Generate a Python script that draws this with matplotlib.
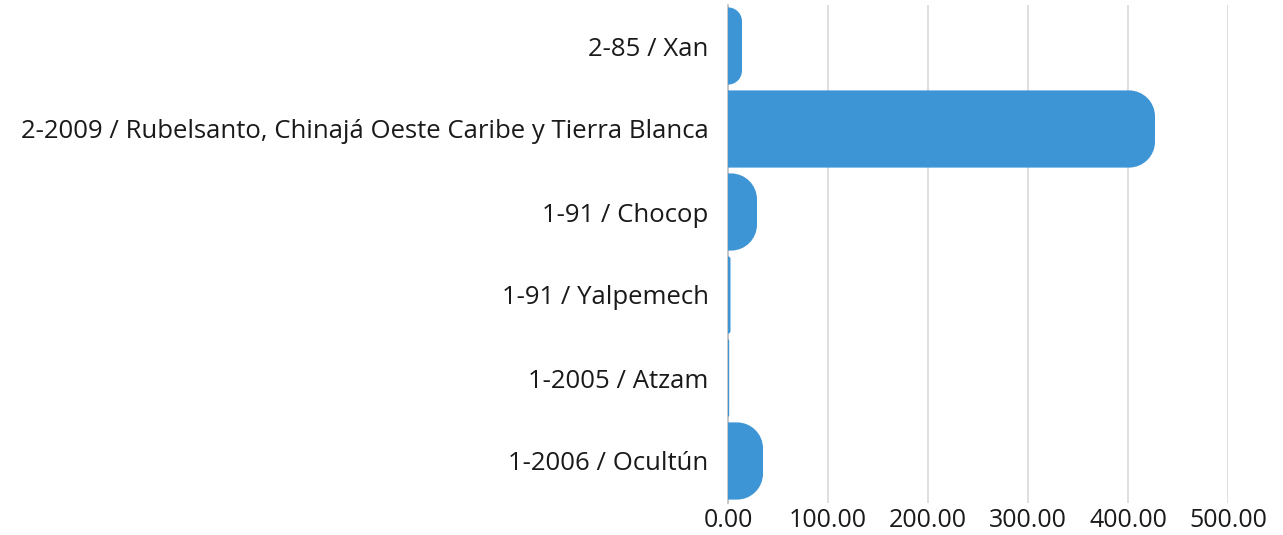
import matplotlib
matplotlib.use("Agg")
import matplotlib.pyplot as plt
from matplotlib.path import Path
from matplotlib.patches import PathPatch

categories = [
    "2-85 / Xan",
    "2-2009 / Rubelsanto, Chinajá Oeste Caribe y Tierra Blanca",
    "1-91 / Chocop",
    "1-91 / Yalpemech",
    "1-2005 / Atzam",
    "1-2006 / Ocultún",
]
values = [14, 427, 29, 2.5, 1.2, 35]
xticks = [0, 100, 200, 300, 400, 500]
xtick_labels = ["0.00", "100.00", "200.00", "300.00", "400.00", "500.00"]

BAR_COLOR = "#3e95d5"
W, H, DPI = 1283, 535, 100
plt.rcParams['font.family'] = ['Open Sans', 'DejaVu Sans']

fig = plt.figure(figsize=(W / DPI, H / DPI), dpi=DPI)
ax = fig.add_axes([728 / W, 1 - 502.5 / H, 500 / W, 498 / H])

ypos = list(range(len(categories)))
bars = ax.barh(ypos, values, height=0.93, color=BAR_COLOR, zorder=3)
ax.set_xlim(0, 500)
ax.set_ylim(len(categories) - 0.5, -0.5)

ax.set_yticks(ypos)
ax.set_yticklabels(categories, fontsize=18.5, color="#1a1a1a")
ax.set_xticks(xticks)
ax.set_xticklabels(xtick_labels, fontsize=18, color="#1a1a1a")
ax.tick_params(axis='y', length=0, pad=14)
ax.tick_params(axis='x', length=0, pad=4)

for s in ['top', 'right', 'bottom']:
    ax.spines[s].set_visible(False)
ax.spines['left'].set_color('#bfbfbf')
ax.spines['left'].set_linewidth(1.2)
ax.spines['left'].set_zorder(2)
ax.grid(axis='x', color='#d9d9d9', linewidth=1.2, zorder=0)
ax.set_axisbelow(True)

# replace bars with right-rounded versions
fig.canvas.draw()
px_per_x = (ax.transData.transform((1, 0))[0] - ax.transData.transform((0, 0))[0])
px_per_y = abs(ax.transData.transform((0, 1))[1] - ax.transData.transform((0, 0))[1])
R_PX = 26
K = 0.5523
for b in bars:
    x0, y0 = b.get_x(), b.get_y()
    w, h = b.get_width(), b.get_height()
    wpx = w * px_per_x
    hpx = h * px_per_y
    r = min(R_PX, wpx, hpx / 2)
    rx = r / px_per_x
    ry = r / px_per_y
    x1 = x0 + w
    y1 = y0 + h
    verts = [
        (x0, y0),
        (x1 - rx, y0),
        (x1 - rx + K * rx, y0), (x1, y0 + ry - K * ry), (x1, y0 + ry),
        (x1, y1 - ry),
        (x1, y1 - ry + K * ry), (x1 - rx + K * rx, y1), (x1 - rx, y1),
        (x0, y1),
        (x0, y0),
    ]
    codes = [Path.MOVETO, Path.LINETO,
             Path.CURVE4, Path.CURVE4, Path.CURVE4,
             Path.LINETO,
             Path.CURVE4, Path.CURVE4, Path.CURVE4,
             Path.LINETO, Path.CLOSEPOLY]
    b.set_visible(False)
    ax.add_patch(PathPatch(Path(verts, codes), facecolor=BAR_COLOR,
                           edgecolor='none', zorder=3))

fig.savefig("out.png", dpi=DPI)
